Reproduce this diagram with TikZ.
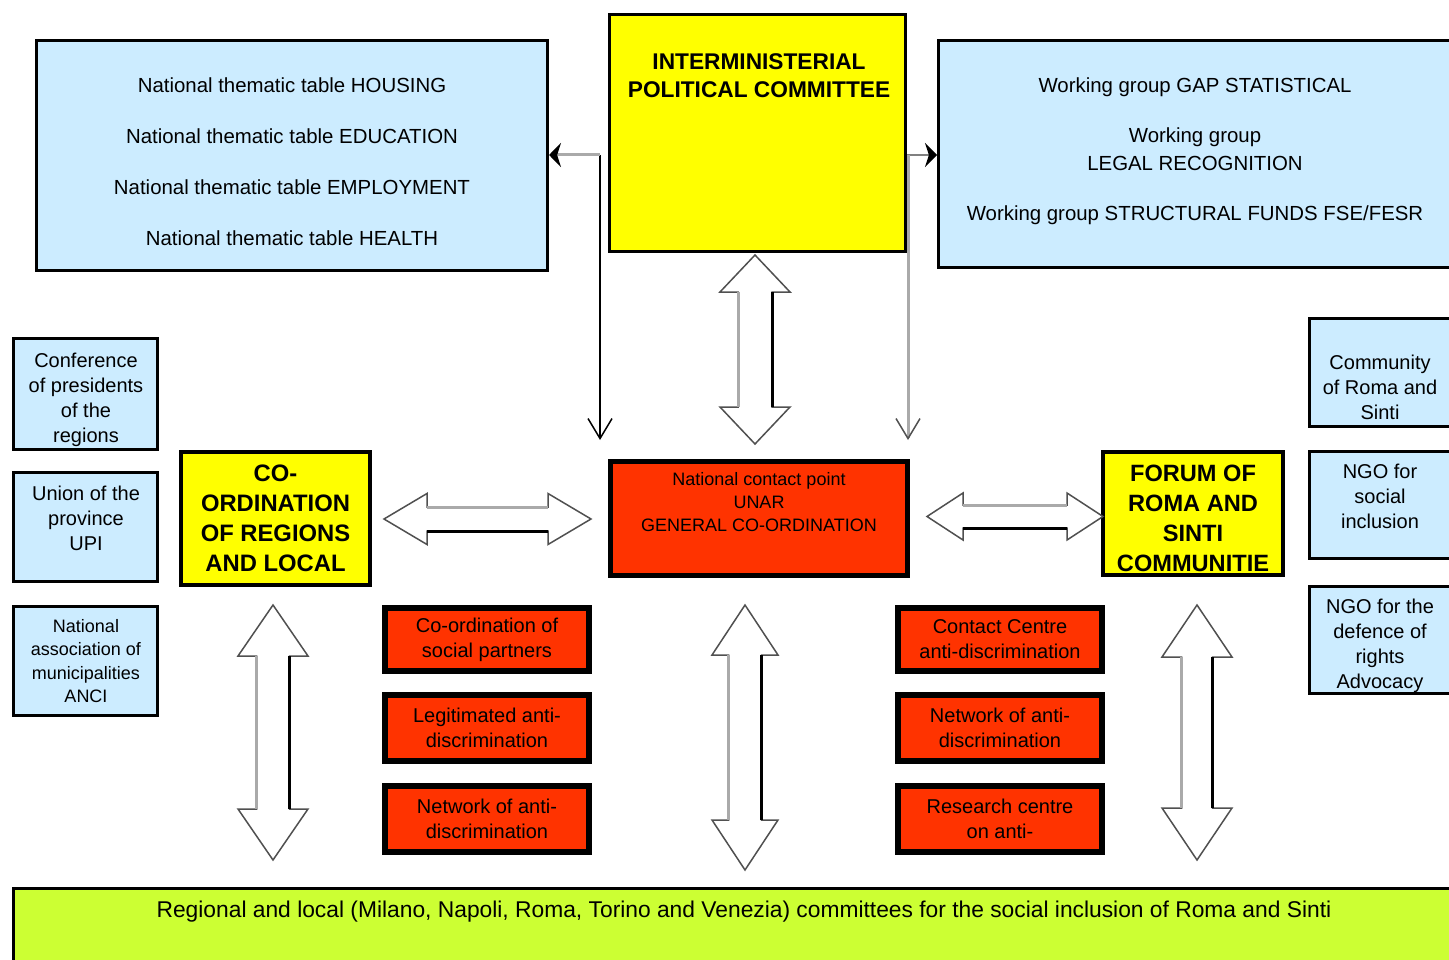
\documentclass[tikz,border=0pt]{standalone}
\usepackage{fontspec}
\setmainfont{Liberation Sans}
\usetikzlibrary{arrows.meta}
\definecolor{lblue}{RGB}{204,236,255}
\definecolor{ryel}{RGB}{255,255,0}
\definecolor{rred}{RGB}{255,51,0}
\definecolor{rgreen}{RGB}{204,255,51}
\definecolor{agrey}{RGB}{80,80,80}
\definecolor{sgrey}{RGB}{170,170,170}
\newcommand{\fsz}[2]{\fontsize{#1}{#2}\selectfont}
% vertical hollow double arrow: xc, ytop, ybot, head half width, shaft half width, head length
\newcommand{\vblk}[6]{%
  \draw[blk] (#1,#2) -- (#1+#4,#2+#6) -- (#1+#5,#2+#6) -- (#1+#5,#3-#6) -- (#1+#4,#3-#6)
     -- (#1,#3) -- (#1-#4,#3-#6) -- (#1-#5,#3-#6) -- (#1-#5,#2+#6) -- (#1-#4,#2+#6) -- cycle;
  \draw[blkL] (#1-#5,#2+#6) -- (#1-#5,#3-#6);
  \draw[blkR] (#1+#5,#2+#6) -- (#1+#5,#3-#6);}
% horizontal hollow double arrow: yc, xleft, xright, head half height, shaft half height, head length
\newcommand{\hblk}[6]{%
  \draw[blk] (#2,#1) -- (#2+#6,#1-#4) -- (#2+#6,#1-#5) -- (#3-#6,#1-#5) -- (#3-#6,#1-#4)
     -- (#3,#1) -- (#3-#6,#1+#4) -- (#3-#6,#1+#5) -- (#2+#6,#1+#5) -- (#2+#6,#1+#4) -- cycle;
  \draw[blkL] (#2+#6,#1-#5) -- (#3-#6,#1-#5);
  \draw[blkR] (#2+#6,#1+#5) -- (#3-#6,#1+#5);}
\tikzset{
  box/.style={rectangle, draw=black, inner sep=0pt},
  bluebox/.style={box, fill=lblue, line width=3pt},
  yelbox/.style={box, fill=ryel, line width=3pt},
  redbox/.style={box, fill=rred, line width=6pt, align=center, font=\fsz{20}{25}},
  txt/.style={align=center, inner sep=0pt, text=black},
  blk/.style={fill=white, draw=agrey, line width=1.5pt, line join=miter},
  blkL/.style={sgrey, line width=3pt},
  blkR/.style={black, line width=3pt},
  vtip/.style={-{Straight Barb[length=20pt,width=24pt,line width=1.5pt]}},
  stip/.style={-{Stealth[black,length=12pt,width=24pt]}}
}
\begin{document}
\begin{tikzpicture}[x=1pt,y=-1pt]
\useasboundingbox (0,0) rectangle (1449,960);
\clip (0,0) rectangle (1449,960);
\fill[white] (0,0) rectangle (1449,960);

% top row
\node[bluebox, minimum width=511pt, minimum height=230pt] (tl) at (292,155.5) {};
\node[txt, font=\fsz{20.4}{51}] (tlt) at (292,161.5) {National thematic table HOUSING\\National thematic table EDUCATION\\National thematic table EMPLOYMENT\\National thematic table HEALTH};

\node[yelbox, minimum width=296pt, minimum height=237pt] (ipc) at (757.5,133) {};
\node[txt, font=\bfseries\fsz{22.7}{28}] (ipct) at (759,76) {INTERMINISTERIAL\\POLITICAL COMMITTEE};

\node[bluebox, minimum width=513pt, minimum height=227pt] (tr) at (1195,154) {};
\node[txt, font=\fsz{20.4}{28}] (trt) at (1195,151) {Working group GAP STATISTICAL\\[22pt]Working group\\LEGAL RECOGNITION\\[22pt]Working group STRUCTURAL FUNDS FSE/FESR};

% left column
\node[bluebox, minimum width=144pt, minimum height=111pt] (cp) at (85.5,394) {};
\node[txt, font=\fsz{20}{25}] (cpt) at (86,399.5) {Conference\\of presidents\\of the\\regions};
\node[bluebox, minimum width=144pt, minimum height=109pt] (upi) at (85.5,527) {};
\node[txt, font=\fsz{20}{25}] (upit) at (86,518.5) {Union of the\\province\\UPI};
\node[bluebox, minimum width=144pt, minimum height=109pt] (anci) at (85.5,661) {};
\node[txt, font=\fsz{18}{23.3}] (ancit) at (86,661) {National\\association of\\municipalities\\ANCI};

% right column
\node[bluebox, minimum width=141pt, minimum height=108pt] (crs) at (1380,372.5) {};
\node[txt, font=\fsz{20}{25}] (crst) at (1380,387.5) {Community\\of Roma and\\Sinti};
\node[bluebox, minimum width=141pt, minimum height=107pt] (ngoa) at (1380,505) {};
\node[txt, font=\fsz{20}{25}] (ngoat) at (1380,496.5) {NGO for\\social\\inclusion};
\node[bluebox, minimum width=141pt, minimum height=107pt] (ngob) at (1380,640) {};
\node[txt, font=\fsz{20}{25}] (ngobt) at (1380,645.5) {NGO for the\\defence of\\rights\\Advocacy};

% middle row
\node[yelbox, line width=4pt, minimum width=189pt, minimum height=133pt, align=center, font=\bfseries\fsz{23.8}{30}] (crl) at (275.5,518.5) {CO-\\ORDINATION\\OF REGIONS\\AND LOCAL};

\node[box, fill=rred, line width=5pt, minimum width=297pt, minimum height=114pt] (ncp) at (759,518.5) {};
\node[txt, font=\fsz{18}{23}] (ncpt) at (759,502) {National contact point\\UNAR\\GENERAL CO-ORDINATION};

\node[yelbox, line width=4pt, outer sep=0pt, minimum width=180pt, minimum height=123pt] (forum) at (1193,513.5) {};
\begin{scope}
  \clip (forum.south west) rectangle (forum.north east);
  \node[txt, font=\bfseries\fsz{23.6}{30}] (forumt) at (1193,518.5) {FORUM OF\\ROMA AND\\SINTI\\COMMUNITIE};
\end{scope}
\draw[line width=4pt] (forum.south west) rectangle (forum.north east);

% red sub boxes
\node[redbox, minimum width=204pt, minimum height=63pt] (rla) at (487,639.5) {Co-ordination of\\social partners};
\node[redbox, minimum width=204pt, minimum height=66pt] (rlb) at (487,728) {Legitimated anti-\\discrimination};
\node[redbox, minimum width=204pt, minimum height=66pt] (rlc) at (487,819) {Network of anti-\\discrimination};
\node[redbox, minimum width=204pt, minimum height=63pt] (rra) at (1000,639.5) {Contact Centre\\anti-discrimination};
\node[redbox, minimum width=204pt, minimum height=66pt] (rrb) at (1000,728) {Network of anti-\\discrimination};
\node[redbox, minimum width=204pt, minimum height=66pt] (rrc) at (1000,819) {Research centre\\on anti-};

% bottom band
\node[box, fill=rgreen, line width=3pt, minimum width=1478pt, minimum height=110pt] (grn) at (752.5,943.5) {};
\node[txt, font=\fsz{22.8}{27}] (grnt) at (744,912) {Regional and local (Milano, Napoli, Roma, Torino and Venezia) committees for the social inclusion of Roma and Sinti};

% hollow double arrows
\vblk{755}{255}{444}{35}{17}{37}
\hblk{519}{384}{591}{25.5}{12}{43}
\hblk{516.5}{927}{1103}{23.5}{11.5}{36}
\vblk{273}{605}{860}{35}{16.5}{51}
\vblk{745}{605}{870}{33}{16.5}{50}
\vblk{1197}{605}{860}{35}{15.5}{52}

% thin connectors
\coordinate (jl) at (600,155);
\coordinate (jle) at (600,440);
\coordinate (jr) at (908,155);
\coordinate (jre) at (908,440);
\draw[black, line width=2pt, vtip] (jl) -- (jle);
\draw[sgrey, line width=3pt, stip] (jl) -- (tl.east |- jl);
\draw[gray, line width=2.5pt, stip] (ipc.east |- jr) -- (tr.west |- jr);
\draw[sgrey, line width=3pt, -{Straight Barb[agrey,length=20pt,width=24pt,line width=1.5pt]}] (jr) -- (jre);
\end{tikzpicture}
\end{document}
